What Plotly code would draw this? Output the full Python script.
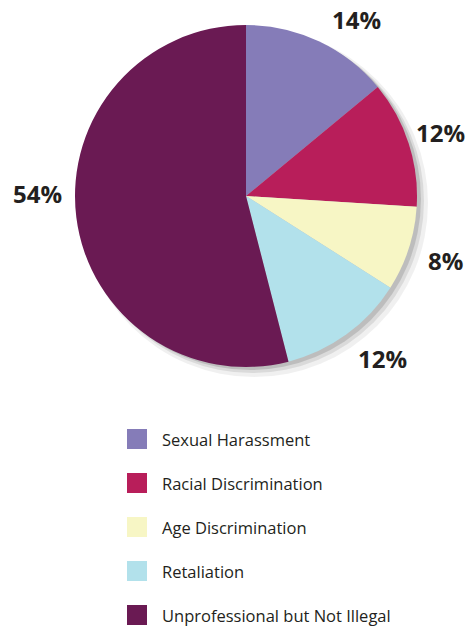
import math
import plotly.graph_objects as go

categories = ["Sexual Harassment", "Racial Discrimination", "Age Discrimination",
              "Retaliation", "Unprofessional but Not Illegal"]
values = [14, 12, 8, 12, 54]
pct_labels = ["14%", "12%", "8%", "12%", "54%"]
colors = ["#857CB8", "#B81E5A", "#F7F6C5", "#B2E1EB", "#6A1A53"]

W, H = 473, 628
cx, cy, R = 246, 196, 171  # pie centre and radius in pixels
label_r = [208, 204, 210, 212, 209]
label_shift_deg = [7, 0, 0, -4, 8]

def px_dom(cx, cy, r):
    return dict(x=[(cx - r) / W, (cx + r) / W], y=[1 - (cy + r) / H, 1 - (cy - r) / H])

fig = go.Figure()

# soft drop shadow
for dx, dy, dr, a in [(8, 7, 3, 0.06), (6, 5, 1, 0.09), (4, 3, 0, 0.13)]:
    fig.add_trace(go.Pie(values=[1], marker=dict(colors=[f"rgba(0,0,0,{a})"], line=dict(width=0)),
                         domain=px_dom(cx + dx, cy + dy, R + dr), textinfo="none",
                         hoverinfo="skip", showlegend=False, sort=False))

fig.add_trace(go.Pie(
    labels=categories, values=values, sort=False, direction="clockwise", rotation=0,
    marker=dict(colors=colors, line=dict(width=0)),
    textinfo="none", showlegend=False, domain=px_dom(cx, cy, R),
))

total = sum(values)
cum = 0
for i, v in enumerate(values):
    mid = (cum + v / 2) / total * 360 + label_shift_deg[i]
    cum += v
    lx = cx + label_r[i] * math.sin(math.radians(mid))
    ly = cy - label_r[i] * math.cos(math.radians(mid))
    fig.add_annotation(x=lx / W, y=1 - ly / H, xref="paper", yref="paper",
                       text=f"<b>{pct_labels[i]}</b>", showarrow=False,
                       font=dict(family="Open Sans", size=24, color="#231F20"),
                       xanchor="center", yanchor="middle")

# legend
lx0, ly0, gap, sq = 127, 439, 44, 20
for i, (name, c) in enumerate(zip(categories, colors)):
    yc = ly0 + i * gap
    fig.add_shape(type="rect", xref="paper", yref="paper",
                  x0=lx0 / W, x1=(lx0 + sq) / W,
                  y0=1 - (yc + sq / 2) / H, y1=1 - (yc - sq / 2) / H,
                  fillcolor=c, line=dict(width=0))
    fig.add_annotation(x=(lx0 + sq + 13) / W, y=1 - yc / H, xref="paper", yref="paper",
                       text=name, showarrow=False, xanchor="left", yanchor="middle",
                       font=dict(family="Open Sans", size=16.5, color="#231F20"))

fig.update_layout(width=W, height=H, margin=dict(l=0, r=0, t=0, b=0),
                  paper_bgcolor="white", plot_bgcolor="white")
fig.write_html("out.html")
